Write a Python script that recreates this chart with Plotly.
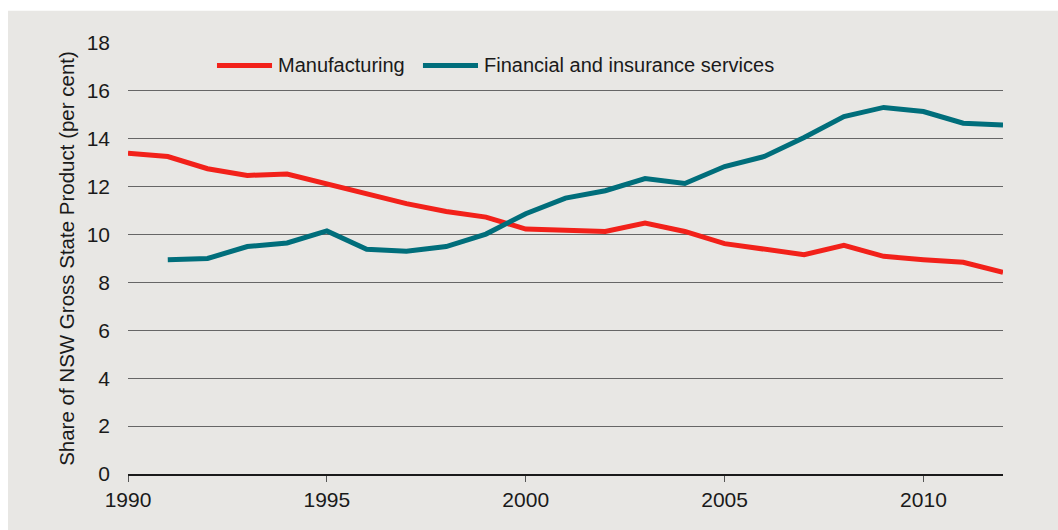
import plotly.graph_objects as go

# Share of NSW Gross State Product by industry, 1990-2012 (per cent)
years = list(range(1990, 2013))
manufacturing = [13.40, 13.26, 12.75, 12.47, 12.53, 12.12, 11.69, 11.29, 10.96, 10.73,
                 10.23, 10.19, 10.13, 10.48, 10.13, 9.62, 9.41, 9.16, 9.55, 9.09,
                 8.95, 8.84, 8.42]
fin_years = list(range(1991, 2013))
financial = [8.95, 9.00, 9.50, 9.65, 10.15, 9.39, 9.30, 9.50, 10.02,
             10.87, 11.52, 11.83, 12.34, 12.13, 12.84, 13.26, 14.05, 14.93, 15.31,
             15.14, 14.65, 14.58]

series_names = ["Manufacturing", "Financial and insurance services"]
series_colors = ["#F2211A", "#006E7B"]
x_ticks = [1990, 1995, 2000, 2005, 2010]
y_ticks = [0, 2, 4, 6, 8, 10, 12, 14, 16, 18]

BG = "#E8E7E4"
FONT = "Liberation Sans, Arial, sans-serif"
TEXT = "#1a1a1a"

fig = go.Figure()
fig.add_trace(go.Scatter(x=years, y=manufacturing, mode="lines", name=series_names[0],
                         line=dict(color=series_colors[0], width=5), showlegend=False))
fig.add_trace(go.Scatter(x=fin_years, y=financial, mode="lines", name=series_names[1],
                         line=dict(color=series_colors[1], width=5), showlegend=False))

# grey panel behind the chart
fig.add_shape(type="rect", xref="paper", yref="paper", x0=-0.1371, x1=1.2, y0=-0.3, y1=1.075,
              fillcolor=BG, line=dict(width=0), layer="below")

# legend drawn as line samples with labels
legend_items = [(0.1017, 0.1646, 0.1686), (0.3371, 0.4000, 0.4046)]
for (lx0, lx1, tx), name, color in zip(legend_items, series_names, series_colors):
    fig.add_shape(type="line", xref="paper", yref="paper", x0=lx0, x1=lx1, y0=0.948, y1=0.948,
                  line=dict(color=color, width=5))
    fig.add_annotation(xref="paper", yref="paper", x=tx, y=0.948, text=name, showarrow=False,
                       xanchor="left", yanchor="middle", font=dict(family=FONT, size=20, color=TEXT))

fig.update_layout(
    width=1058, height=530,
    margin=dict(l=128, r=55, t=43, b=56),
    paper_bgcolor="white", plot_bgcolor=BG,
    font=dict(family=FONT, size=21, color=TEXT),
    showlegend=False,
)
fig.update_xaxes(range=[1990, 2012], tickvals=x_ticks, showgrid=False, zeroline=False,
                 showline=True, linecolor="#1a1a1a", linewidth=1.5,
                 ticks="outside", ticklen=6, tickcolor="#555555", tickwidth=1,
                 tickfont=dict(family=FONT, size=21, color=TEXT))
fig.update_yaxes(range=[0, 18], tickvals=y_ticks, showgrid=True, gridcolor="#666666", gridwidth=1,
                 zeroline=False, showline=False, ticks="", ticklabelstandoff=17,
                 tickfont=dict(family=FONT, size=21, color=TEXT),
                 title=dict(text="Share of NSW Gross State Product (per cent)", standoff=6,
                            font=dict(family=FONT, size=20.5, color=TEXT)))

fig.write_html("out.html")
